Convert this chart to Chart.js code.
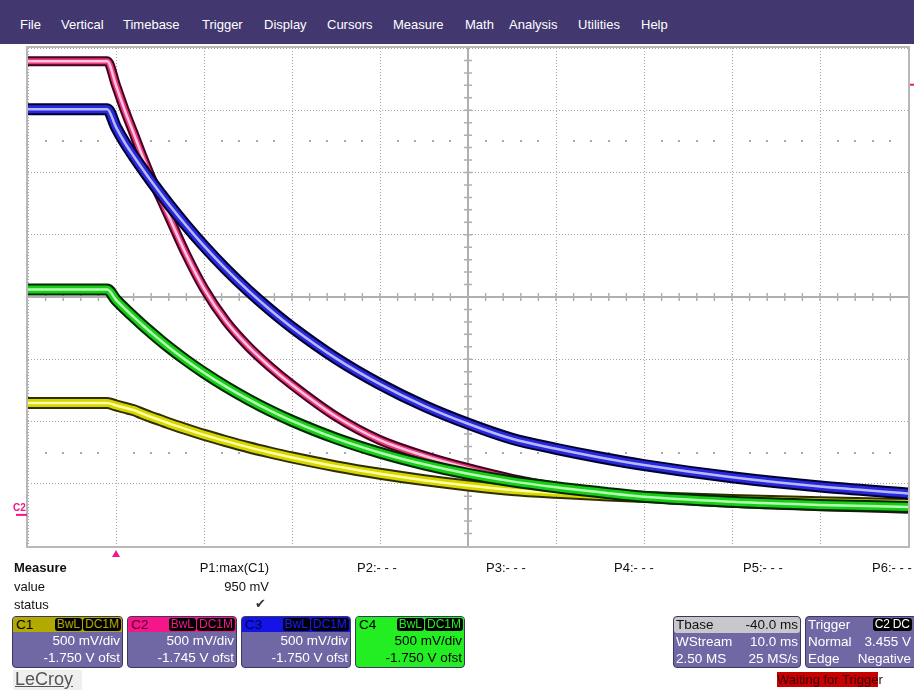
<!DOCTYPE html>
<html>
<head>
<meta charset="utf-8">
<script src="https://cdn.jsdelivr.net/npm/chart.js@4.4.1/dist/chart.umd.min.js"></script>
<style>
  body { margin: 0; width: 914px; height: 692px; background: #fff; position: relative; overflow: hidden;
         font-family: "Liberation Sans", Arial, sans-serif; }
  #menu { position: absolute; left: 0; top: 0; width: 914px; height: 44px; background: #42386f; }
  #menu span { position: absolute; top: 17px; color: #fff; font-size: 13px; }
  canvas { position: absolute; left: 0; top: 0; }
  .t { position: absolute; font-size: 13px; color: #111; white-space: nowrap; }
  .box { position: absolute; top: 616px; height: 50px; border: 1px solid #3b3760; border-radius: 4px;
         background: #7068a4; overflow: hidden; color: #fff; font-size: 13.5px; }
  .hd { height: 15px; line-height: 15px; position: relative; padding-left: 3px; }
  .bdg { position: absolute; top: 1px; height: 13px; line-height: 13px; background: #000; border-radius: 3px;
         font-size: 12px; padding: 0 2px; }
  .row { height: 17px; line-height: 17px; text-align: right; padding-right: 2px; }
  .lr { height: 17px; line-height: 17px; display: flex; justify-content: space-between; padding: 0 2px; }
</style>
</head>
<body>
<div id="menu">
  <span style="left:20px">File</span>
  <span style="left:61px">Vertical</span>
  <span style="left:123px">Timebase</span>
  <span style="left:202px">Trigger</span>
  <span style="left:264px">Display</span>
  <span style="left:327px">Cursors</span>
  <span style="left:393px">Measure</span>
  <span style="left:465px">Math</span>
  <span style="left:509px">Analysis</span>
  <span style="left:578px">Utilities</span>
  <span style="left:641px">Help</span>
</div>

<canvas id="scope" width="914" height="692"></canvas>

<!-- measure table -->
<div class="t" style="left:14px; top:560px; font-weight:bold">Measure</div>
<div class="t" style="left:14px; top:579px">value</div>
<div class="t" style="left:14px; top:597px">status</div>
<div class="t" style="left:180px; width:89px; top:560px; text-align:right">P1:max(C1)</div>
<div class="t" style="left:180px; width:89px; top:579px; text-align:right">950 mV</div>
<div class="t" style="left:255px; top:596px; color:#333; font-family:'DejaVu Sans'">✔</div>
<div class="t" style="left:357px; top:560px">P2:- - -</div>
<div class="t" style="left:486px; top:560px">P3:- - -</div>
<div class="t" style="left:614px; top:560px">P4:- - -</div>
<div class="t" style="left:743px; top:560px">P5:- - -</div>
<div class="t" style="left:872px; top:560px">P6:- - -</div>

<!-- channel boxes -->
<div class="box" style="left:12px; width:109px">
  <div class="hd" style="background:#b2aa00; color:#000">C1
    <span class="bdg" style="right:40px; color:#b2aa00">BwL</span><span class="bdg" style="right:1px; color:#b2aa00">DC1M</span></div>
  <div class="row">500 mV/div</div>
  <div class="row">-1.750 V ofst</div>
</div>
<div class="box" style="left:127px; width:108px">
  <div class="hd" style="background:#f5168a; color:#5a0025">C2
    <span class="bdg" style="right:40px; color:#f5168a">BwL</span><span class="bdg" style="right:1px; color:#f5168a">DC1M</span></div>
  <div class="row">500 mV/div</div>
  <div class="row">-1.745 V ofst</div>
</div>
<div class="box" style="left:241px; width:108px">
  <div class="hd" style="background:#1414e6; color:#00005a">C3
    <span class="bdg" style="right:40px; color:#1c1cf0">BwL</span><span class="bdg" style="right:1px; color:#1c1cf0">DC1M</span></div>
  <div class="row">500 mV/div</div>
  <div class="row">-1.750 V ofst</div>
</div>
<div class="box" style="left:355px; width:108px; background:#22ee22; color:#000">
  <div class="hd" style="background:#22ee22; color:#000">C4
    <span class="bdg" style="right:40px; color:#22ee22">BwL</span><span class="bdg" style="right:1px; color:#22ee22">DC1M</span></div>
  <div class="row">500 mV/div</div>
  <div class="row">-1.750 V ofst</div>
</div>

<!-- timebase / trigger -->
<div class="box" style="left:673px; width:126px">
  <div class="lr" style="background:#c8c8cc; color:#111; height:16px; line-height:16px; border-radius:3px">
    <span>Tbase</span><span>-40.0 ms</span></div>
  <div class="lr"><span>WStream</span><span>10.0 ms</span></div>
  <div class="lr"><span>2.50 MS</span><span>25 MS/s</span></div>
</div>
<div class="box" style="left:805px; width:110px">
  <div class="lr" style="height:16px; line-height:16px; position:relative"><span>Trigger</span><span></span>
    <span class="bdg" style="right:24px; color:#fff">C2</span><span class="bdg" style="right:4px; color:#fff">DC</span></div>
  <div class="lr"><span>Normal</span><span style="padding-right:3px">3.455 V</span></div>
  <div class="lr"><span>Edge</span><span style="padding-right:3px">Negative</span></div>
</div>
<div class="t" style="left:777px; top:672px; height:16px; line-height:16px; color:#3a0000"><span style="background:#c80000">Waiting for Trigge</span>r</div>

<div class="t" style="left:13px; top:670px; width:69px; height:20px; background:#efefef"></div>
<div class="t" style="left:15px; top:669px; font-size:18px; color:#555; text-decoration:underline">LeCroy</div>

<script>
// time in ms relative to trigger, 10 ms/div
const times = [-10, -1, 0, 1, 2, 3, 4, 5, 6, 8, 10, 12.5, 15, 17.5, 20, 25, 30, 35, 40, 45, 50, 55, 60, 70, 80, 90];
// volts, 500 mV/div
const c1 = [0.899, 0.899, 0.879, 0.860, 0.841, 0.813, 0.786, 0.761, 0.735, 0.688, 0.643, 0.592, 0.544, 0.501, 0.461, 0.390, 0.330, 0.279, 0.236, 0.200, 0.177, 0.159, 0.143, 0.120, 0.102, 0.087];
const c2 = [3.644, 3.644, 3.45, 3.249, 3.066, 2.882, 2.709, 2.553, 2.398, 2.088, 1.818, 1.555, 1.355, 1.19, 1.045, 0.79, 0.60, 0.475, 0.375, 0.29, 0.225, 0.178, 0.142, 0.097, 0.070, 0.050];
const c3 = [3.259, 3.259, 3.114, 2.989, 2.882, 2.780, 2.681, 2.587, 2.495, 2.322, 2.160, 1.973, 1.803, 1.648, 1.506, 1.257, 1.050, 0.876, 0.732, 0.611, 0.531, 0.461, 0.400, 0.302, 0.228, 0.172];
const c4 = [1.81, 1.81, 1.727, 1.657, 1.590, 1.525, 1.464, 1.404, 1.347, 1.240, 1.142, 1.030, 0.929, 0.837, 0.755, 0.614, 0.499, 0.406, 0.330, 0.269, 0.222, 0.182, 0.145, 0.105, 0.080, 0.064];

// grid divisions
const xDivs = [-10, 0, 10, 20, 30, 40, 50, 60, 70, 80, 90];
const yDivs = [-0.25, 0.25, 0.75, 1.25, 1.75, 2.25, 2.75, 3.25, 3.75];
const dotRows = [3.0, 0.5];
const xCenter = 40, yCenter = 1.75;
const trigLevel = 3.455, trigTime = 0;

const channels = [
  { name: 'C1', values: c1, w: 12, dark: '#2e2e00', mid: '#d8d600', light: '#ffffa8' },
  { name: 'C2', values: c2, w: 10, dark: '#440020', mid: '#e8387e', light: '#ffc4de' },
  { name: 'C3', values: c3, w: 12, dark: '#000030', mid: '#2828dc', light: '#b8b8ff' },
  { name: 'C4', values: c4, w: 12, dark: '#002800', mid: '#18cc18', light: '#b4ffb4' }
];

const datasets = [];
channels.forEach((ch, i) => {
  const pts = times.map((t, j) => ({ x: t, y: ch.values[j] }));
  const base = (4 - i) * 3;
  [[ch.dark, ch.w, 2], [ch.mid, ch.w - 4, 1], [ch.light, 2.5, 0]].forEach(([color, w, k]) => {
    datasets.push({
      label: ch.name, data: pts, borderColor: color, borderWidth: w,
      pointRadius: 0, cubicInterpolationMode: 'monotone', order: base + k,
      borderCapStyle: 'butt', borderJoinStyle: 'round'
    });
  });
});

const scopeGrid = {
  id: 'scopeGrid',
  beforeDatasetsDraw(chart) {
    const { ctx, chartArea: a, scales: { x, y } } = chart;
    ctx.save();
    // dotted rows
    ctx.fillStyle = '#a8a8a8';
    dotRows.forEach(v => {
      const py = Math.round(y.getPixelForValue(v));
      for (let t = x.min + 2; t < x.max; t += 2) {
        if ((t - x.min) % 10 === 0) continue;
        ctx.fillRect(Math.round(x.getPixelForValue(t)) - 1, py - 1, 2, 2);
      }
    });
    // center cross with ticks
    const cx = x.getPixelForValue(xCenter), cy = y.getPixelForValue(yCenter);
    ctx.strokeStyle = '#b0b0b0';
    ctx.lineWidth = 2;
    ctx.beginPath();
    ctx.moveTo(a.left, cy); ctx.lineTo(a.right, cy);
    ctx.moveTo(cx, a.top); ctx.lineTo(cx, a.bottom);
    ctx.stroke();
    ctx.lineWidth = 1.5;
    ctx.beginPath();
    for (let t = x.min + 2; t < x.max; t += 2) {
      const px = x.getPixelForValue(t);
      ctx.moveTo(px, cy - 4); ctx.lineTo(px, cy + 4);
    }
    for (let v = y.min + 0.1; v < y.max - 0.01; v += 0.1) {
      const py = y.getPixelForValue(v);
      ctx.moveTo(cx - 4, py); ctx.lineTo(cx + 4, py);
    }
    ctx.stroke();
    // frame
    ctx.lineWidth = 2;
    ctx.strokeStyle = '#b8b8b8';
    ctx.strokeRect(a.left - 1, a.top - 1, a.width + 2, a.height + 2);
    ctx.restore();
  },
  afterDraw(chart) {
    const { ctx, chartArea: a, scales: { x, y } } = chart;
    ctx.save();
    ctx.fillStyle = '#f2168a';
    // trigger position
    const tx = x.getPixelForValue(trigTime);
    ctx.beginPath();
    ctx.moveTo(tx, a.bottom + 4); ctx.lineTo(tx + 4, a.bottom + 11); ctx.lineTo(tx - 4, a.bottom + 11);
    ctx.closePath(); ctx.fill();
    // trigger level
    const ty = y.getPixelForValue(trigLevel);
    ctx.fillRect(a.right + 2, ty - 1, 5, 2);
    // C2 ground marker
    const gy = y.getPixelForValue(0);
    ctx.fillRect(16, gy - 1, 11, 2);
    ctx.font = 'bold 10px "Liberation Sans", Arial';
    ctx.fillText('C2', 13, gy - 4);
    ctx.restore();
  }
};

new Chart(document.getElementById('scope'), {
  type: 'line',
  data: { datasets },
  options: {
    responsive: false,
    animation: false,
    layout: { padding: { left: 28, right: 6, top: 48, bottom: 146 } },
    plugins: { legend: { display: false }, tooltip: { enabled: false } },
    scales: {
      x: {
        type: 'linear', min: -10, max: 90,
        afterBuildTicks: axis => { axis.ticks = xDivs.map(v => ({ value: v })); },
        ticks: { display: false },
        grid: { color: '#a8a8a8', lineWidth: 1, drawTicks: false },
        border: { display: false, dash: [1, 2] }
      },
      y: {
        type: 'linear', min: -0.25, max: 3.75,
        afterBuildTicks: axis => { axis.ticks = yDivs.map(v => ({ value: v })); },
        ticks: { display: false },
        grid: { color: '#a8a8a8', lineWidth: 1, drawTicks: false },
        border: { display: false, dash: [1, 2] }
      }
    }
  },
  plugins: [scopeGrid]
});
</script>
</body>
</html>
